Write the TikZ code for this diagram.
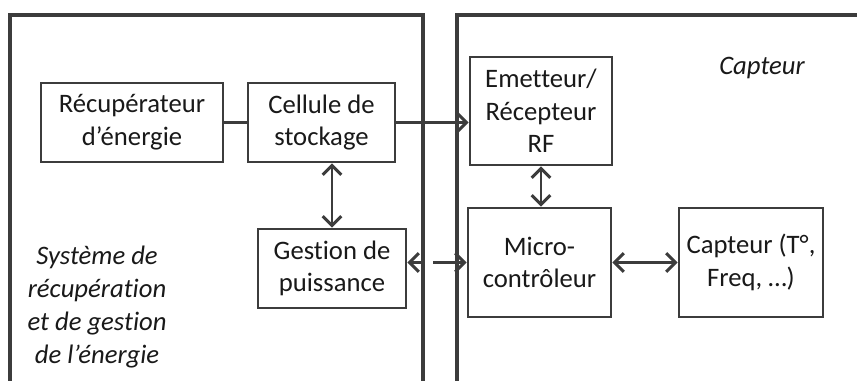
\documentclass[tikz,border=0pt]{standalone}
\usepackage{fontspec}
\setmainfont{Carlito}[Ligatures=NoCommon]
\usetikzlibrary{arrows.meta}
\definecolor{linegray}{RGB}{60,60,60}
\definecolor{txt}{RGB}{25,25,25}
\begin{document}
\begin{tikzpicture}[x=0.75pt,y=-0.75pt,
  blk/.style={draw=linegray,line width=2.2pt,align=center,inner sep=0pt,
    font=\fontsize{20}{24.5}\selectfont,text=txt},
  framebox/.style={draw=linegray,line width=2.3pt},
  conn/.style={draw=linegray,line width=2.2pt},
  endtip/.style={-{Straight Barb[length=7pt,width=14pt,line width=2.2pt]}},
  starttip/.style={{Straight Barb[length=7pt,width=14pt,line width=2.2pt]}-},
  bothtip/.style={{Straight Barb[length=7pt,width=14pt,line width=2.2pt]}-{Straight Barb[length=7pt,width=14pt,line width=2.2pt]}},
  lbl/.style={align=center,inner sep=0pt,font=\fontsize{20}{24.75}\selectfont\itshape,text=txt}
]
\useasboundingbox (0,0) rectangle (857,381);
\clip (0,0) rectangle (857,381);
\fill[white] (0,0) rectangle (857,381);
% frames
\draw[framebox] (10,390) -- (10,15) -- (423,15) -- (423,390);
\draw[framebox] (457,390) -- (457,15) -- (870,15);
% blocks
\node[blk,minimum width=136.5pt,minimum height=59.25pt] (recup) at (132,122.5) {Récupérateur\\d’énergie};
\node[blk,minimum width=110.25pt,minimum height=59.25pt] (cell) at (321.5,122.5) {Cellule de\\stockage};
\node[blk,minimum width=106.5pt,minimum height=81pt] (emet) at (541,111) {Emetteur/\\Récepteur\\RF};
\node[blk,minimum width=111pt,minimum height=59.25pt] (gest) at (332,268.5) {Gestion de\\puissance};
\node[blk,minimum width=107.25pt,minimum height=81.75pt] (micro) at (539.5,262.5) {Micro-\\contrôleur};
\node[blk,minimum width=108pt,minimum height=81.75pt] (capt) at (751,262.5) {Capteur (T°,\\Freq, …)};
% labels
\node[lbl] (lcapt) at (762,68) {Capteur};
\node[lbl] (lsys) at (97,307) {Système de\\récupération\\et de gestion\\de l’énergie};
% connectors
\draw[conn] (recup.east |- cell.west) -- (cell.west);
\draw[conn,endtip] (cell.east) -- (cell.east -| emet.west);
\draw[conn,bothtip] (gest.north |- cell.south) -- (gest.north);
\draw[conn,bothtip] (emet.south) -- (emet.south |- micro.north);
\draw[conn,bothtip] (micro.east) -- (capt.west);
\coordinate (gapL) at (422,262.5);
\coordinate (gapR) at (433,262.5);
\draw[conn,starttip] (micro.west -| gest.east) -- (gapL);
\draw[conn,endtip] (gapR) -- (micro.west);
\end{tikzpicture}
\end{document}
